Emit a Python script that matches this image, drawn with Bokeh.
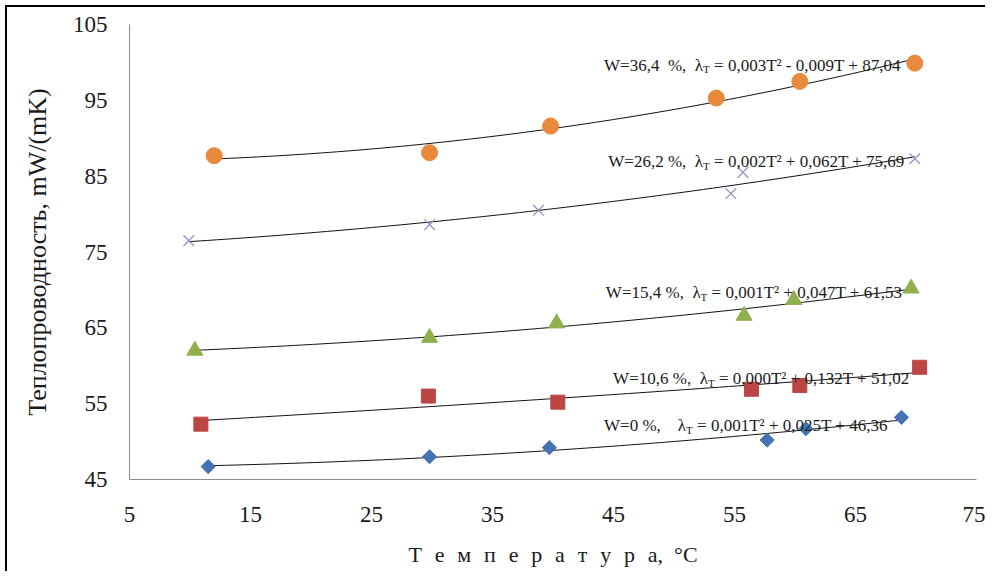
import numpy as np
from bokeh.plotting import figure
from bokeh.models import FixedTicker, ColumnDataSource, Range1d
from bokeh.core.properties import value
from bokeh.embed import file_html
from bokeh.resources import INLINE

# ---- data ----
temp_w0 = [11.5, 29.8, 39.7, 57.7, 60.9, 68.8]
lam_w0 = [46.7, 48.0, 49.2, 50.2, 51.7, 53.2]

temp_w106 = [10.9, 29.7, 40.4, 56.4, 60.4, 70.3]
lam_w106 = [52.3, 56.0, 55.2, 56.9, 57.4, 59.8]

temp_w154 = [10.4, 29.8, 40.3, 55.8, 59.9, 69.6]
lam_w154 = [62.0, 63.7, 65.6, 66.6, 68.7, 70.2]

temp_w262 = [9.9, 29.8, 38.8, 54.7, 55.7, 69.9]
lam_w262 = [76.5, 78.6, 80.5, 82.7, 85.5, 87.3]

temp_w364 = [12.0, 29.8, 39.8, 53.5, 60.4, 69.9]
lam_w364 = [87.7, 88.1, 91.6, 95.3, 97.5, 99.9]

x_ticks = [5, 15, 25, 35, 45, 55, 65, 75]
y_ticks = [45, 55, 65, 75, 85, 95, 105]

label_x = [52.4, 52.4, 52.2, 52.8, 51.0]
label_y = [99.6, 86.9, 69.6, 58.3, 52.1]
label_head = ["W=36,4\u2002%,\u2002\u03bb", "W=26,2 %,\u2002\u03bb", "W=15,4 %,\u2002\u03bb",
              "W=10,6 %,\u2002\u03bb", "W=0 %,\u2002\u2002\u03bb"]
label_sub = ["T", "T", "T", "T", "T"]
label_tail = ["= 0,003T\u00b2 - 0,009T + 87,04", "= 0,002T\u00b2 + 0,062T + 75,69",
              "= 0,001T\u00b2 + 0,047T + 61,53", "= 0,000T\u00b2 + 0,132T + 51,02",
              "= 0,001T\u00b2 + 0,025T + 46,36"]

sp = "\u2002\u200a"
x_title = sp.join(list("\u0422\u0435\u043c\u043f\u0435\u0440\u0430\u0442\u0443\u0440\u0430")) + ",\u2002\u00b0\u0421"
y_title = "\u0422\u0435\u043f\u043b\u043e\u043f\u0440\u043e\u0432\u043e\u0434\u043d\u043e\u0441\u0442\u044c, mW/(mK)"

SERIF = "Liberation Serif"

p = figure(width=985, height=571, output_backend="svg", toolbar_location=None,
           x_range=Range1d(5, 75), y_range=Range1d(45, 105),
           min_border_left=129, min_border_right=9, min_border_top=24, min_border_bottom=92)
p.xgrid.visible = False
p.ygrid.visible = False
p.outline_line_color = None
p.border_fill_color = None
p.background_fill_color = None
p.styles = {
    "background": "linear-gradient(#000,#000) 5px 5px / 100% 2px no-repeat, "
                  "linear-gradient(#000,#000) 5px 5px / 2px 100% no-repeat, #fff",
}

p.xaxis.ticker = FixedTicker(ticks=x_ticks)
p.yaxis.ticker = FixedTicker(ticks=y_ticks)
for ax in (p.xaxis[0], p.yaxis[0]):
    ax.major_tick_line_color = None
    ax.minor_tick_line_color = None
    ax.major_tick_out = 0
    ax.major_tick_in = 0
    ax.axis_line_color = "#8c8c8c"
    ax.axis_line_width = 1
    ax.major_label_text_font = SERIF
    ax.major_label_text_font_size = "23px"
    ax.major_label_text_color = "#1a1a1a"
    ax.axis_label_text_font = SERIF
    ax.axis_label_text_font_style = "normal"
    ax.axis_label_text_color = "#1a1a1a"

p.yaxis.major_label_standoff = 22
p.xaxis.major_label_standoff = 27
p.yaxis.axis_label = y_title
p.yaxis.axis_label_text_font_size = "26px"
p.yaxis.axis_label_standoff = 18
p.xaxis.axis_label = x_title
p.xaxis.axis_label_text_font_size = "22px"
p.xaxis.axis_label_standoff = 17

series = [
    (temp_w0, lam_w0), (temp_w106, lam_w106), (temp_w154, lam_w154),
    (temp_w262, lam_w262), (temp_w364, lam_w364),
]
for t, l in series:
    c = np.polyfit(t, l, 2)
    xs = np.linspace(min(t), max(t), 80)
    p.line(xs, np.polyval(c, xs), line_color="#111111", line_width=1)

p.scatter(temp_w0, lam_w0, marker="square", angle=np.pi / 4, size=10,
          fill_color="#4473b4", line_color="#4473b4")
p.scatter(temp_w106, lam_w106, marker="square", size=14,
          fill_color="#bb4644", line_color="#bb4644")
p.scatter(temp_w154, lam_w154, marker="triangle", size=16,
          fill_color="#8fb04c", line_color="#8fb04c")
p.scatter(temp_w262, lam_w262, marker="x", size=15,
          line_color="#9a90c2", line_width=1.3)
p.scatter(temp_w364, lam_w364, marker="circle", size=16,
          fill_color="#e8893c", line_color="#e8893c")

src = ColumnDataSource(dict(x=label_x, y=label_y, head=label_head, sub=label_sub, tail=label_tail))
p.text(x="x", y="y", text="head", source=src, text_font=value(SERIF), text_font_size="17px",
       text_align="right", text_baseline="alphabetic", text_color="#1a1a1a")
p.text(x="x", y="y", text="sub", source=src, text_font=value(SERIF), text_font_size="11px",
       text_align="left", text_baseline="alphabetic", text_color="#1a1a1a", y_offset=4)
p.text(x="x", y="y", text="tail", source=src, text_font=value(SERIF), text_font_size="17px",
       text_align="left", text_baseline="alphabetic", text_color="#1a1a1a", x_offset=11)

open("out.html", "w").write(file_html(p, INLINE))
